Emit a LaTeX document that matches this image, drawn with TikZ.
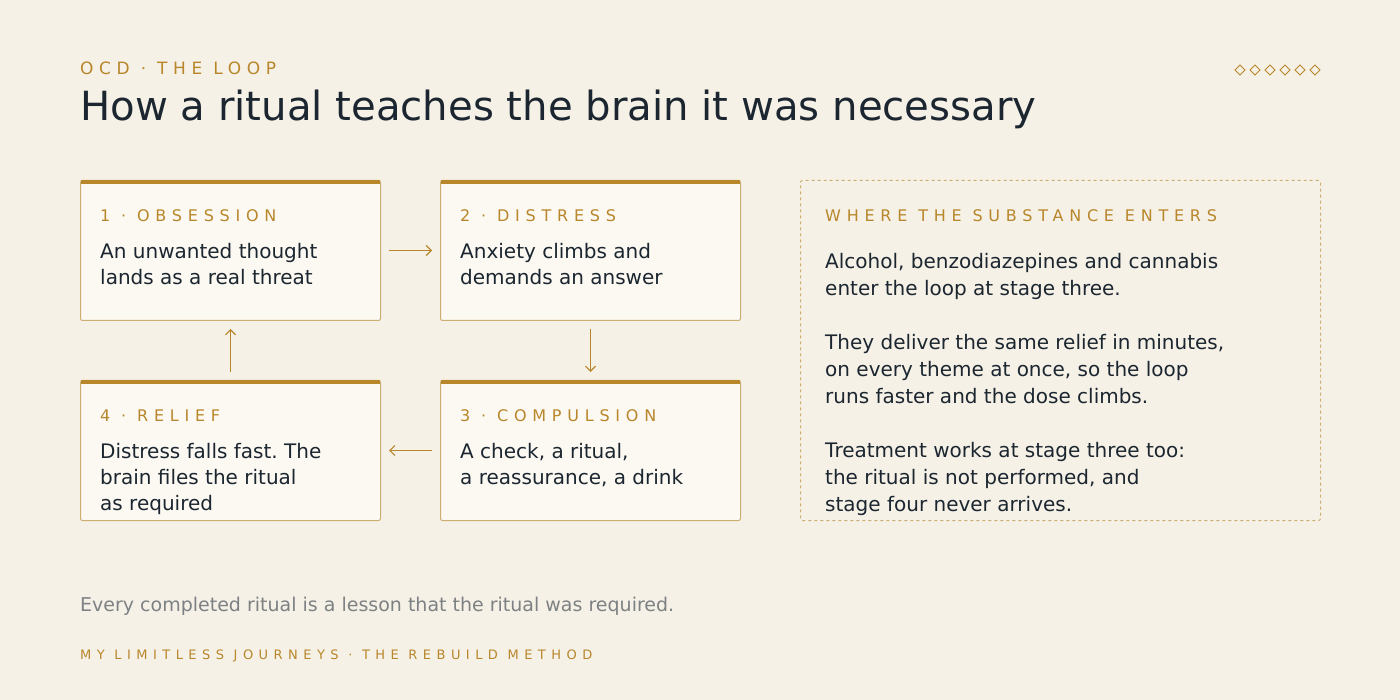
\documentclass[tikz,border=0pt]{standalone}
\usepackage{fontspec}
\setmainfont{DejaVu Sans}
\usetikzlibrary{positioning,arrows.meta}
\definecolor{paper}{HTML}{F6F1E6}
\definecolor{card}{HTML}{FCF9F2}
\definecolor{gold}{HTML}{B8862B}
\definecolor{edge}{HTML}{CDAE72}
\definecolor{ink}{HTML}{1B2630}
\definecolor{mute}{HTML}{7D8184}
\tikzset{
  card/.style={draw=edge,fill=card,rounded corners=2pt,line width=1pt,minimum width=300pt,minimum height=140pt,anchor=north west,inner sep=0pt},
  stage/.style={anchor=west,inner sep=0pt,text=gold,font=\fontsize{16}{16}\selectfont\addfontfeature{LetterSpace=36}},
  body/.style={anchor=north west,inner sep=0pt,text=ink,align=left,font=\fontsize{20}{26}\selectfont},
  flow/.style={-{Straight Barb[length=5pt,width=10pt]},draw=gold,line width=1.2pt,shorten >=8pt,shorten <=8pt}
}
\frenchspacing
\begin{document}
\frenchspacing
\begin{tikzpicture}[x=1pt,y=-1pt]
\fill[paper] (0,0) rectangle (1400,700);
% heading
\node[anchor=west,inner sep=0pt,text=gold,font=\fontsize{17}{17}\selectfont\addfontfeature{LetterSpace=33}] (kicker) at (80,68) {OCD · THE LOOP};
\node[anchor=west,inner sep=0pt,text=ink,font=\fontsize{40.2}{40}\selectfont] (title) at (80,109) {How a ritual teaches the brain it was necessary};
\foreach \i in {0,...,5}
  \draw[gold,line width=0.8pt] ({1240+\i*15},65) -- ({1245+\i*15},70) -- ({1240+\i*15},75) -- ({1235+\i*15},70) -- cycle;
% the four cards
\node[card] (obs) at (80,180) {};
\node[card] (dis) at (440,180) {};
\node[card] (com) at (440,380) {};
\node[card] (rel) at (80,380) {};
\foreach \c in {obs,dis,com,rel}
  \draw[gold,line width=4pt] ([xshift=1pt,yshift=-2pt]\c.north west) -- ([xshift=-1pt,yshift=-2pt]\c.north east);
\node[stage] (obsL) at (100,216) {1 · OBSESSION};
\node[body] (obsT) at (100,243) {An unwanted thought\\lands as a real threat};
\node[stage] (disL) at (460,216) {2 · DISTRESS};
\node[body] (disT) at (460,243) {Anxiety climbs and\\demands an answer};
\node[stage] (comL) at (460,416) {3 · COMPULSION};
\node[body] (comT) at (460,443) {A check, a ritual,\\a reassurance, a drink};
\node[stage] (relL) at (100,416) {4 · RELIEF};
\node[body] (relT) at (100,443) {Distress falls fast. The\\brain files the ritual\\as required};
% loop arrows
\draw[flow] (obs.east) -- (dis.west);
\draw[flow] (dis.south) -- (com.north);
\draw[flow] (com.west) -- (rel.east);
\draw[flow] (rel.north) -- (obs.south);
% side panel
\node[draw=edge,dashed,rounded corners=2pt,line width=1pt,minimum width=520pt,minimum height=340pt,anchor=north west,inner sep=0pt] (side) at (800,180) {};
\node[stage] (sideL) at (825,216) {WHERE THE SUBSTANCE ENTERS};
\node[body,font=\fontsize{20}{27}\selectfont] (sideT) at (825,253) {Alcohol, benzodiazepines and cannabis\\enter the loop at stage three.\\[27pt]They deliver the same relief in minutes,\\on every theme at once, so the loop\\runs faster and the dose climbs.\\[27pt]Treatment works at stage three too:\\the ritual is not performed, and\\stage four never arrives.};
% footer
\node[anchor=west,inner sep=0pt,text=mute,font=\fontsize{19}{19}\selectfont] (moral) at (80,606) {Every completed ritual is a lesson that the ritual was required.};
\node[anchor=west,inner sep=0pt,text=gold,font=\fontsize{13}{13}\selectfont\addfontfeature{LetterSpace=42}] (brand) at (80,656) {MY LIMITLESS JOURNEYS · THE REBUILD METHOD};
\end{tikzpicture}
\end{document}
